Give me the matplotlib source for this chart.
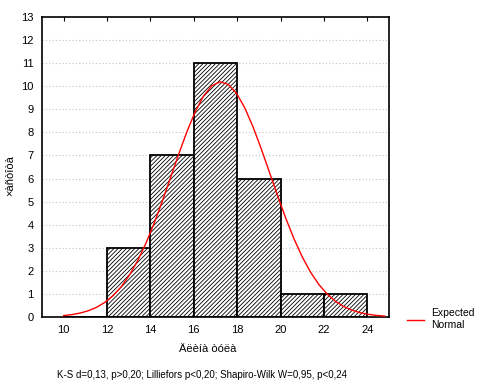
import numpy as np
import matplotlib.pyplot as plt

plt.rcParams['font.family'] = ['Liberation Sans', 'DejaVu Sans']
plt.rcParams['hatch.linewidth'] = 0.6

bin_edges = [10, 12, 14, 16, 18, 20, 22, 24]
counts = [0, 3, 7, 11, 6, 1, 1]
mu = 17.25
sigma = 2.27
n_total = sum(counts)
yticks = list(range(0, 14))
xticks = [10, 12, 14, 16, 18, 20, 22, 24]

fig = plt.figure(figsize=(4.79, 3.89), dpi=100)
ax = fig.add_axes([42 / 479, 1 - 317 / 389, 347 / 479, 300 / 389])

for y in yticks[1:-1]:
    ax.axhline(y, color='#c4c4c4', lw=0.8, ls=(0, (1, 2)), zorder=0)

lefts = np.array(bin_edges[:-1])
widths = np.diff(bin_edges)
ax.bar(lefts, counts, width=widths, align='edge', facecolor='white',
       edgecolor='black', hatch='////////', lw=1.3, zorder=2)
ax.plot([10, 12], [0, 0], color='black', lw=2, zorder=3)

xs = np.linspace(10, 24.8, 40)
ys = n_total * 2 / (sigma * np.sqrt(2 * np.pi)) * np.exp(-(xs - mu) ** 2 / (2 * sigma ** 2))
line, = ax.plot(xs, ys, color='red', lw=1, zorder=4, label='Expected\nNormal')

ax.set_xlim(9, 25)
ax.set_ylim(0, 13)
ax.set_yticks(yticks)
ax.set_xticks(xticks)
ax.tick_params(axis='both', labelsize=8, length=0, pad=6)
ax.tick_params(axis='x', top=True, direction='in', length=3)
ax.tick_params(axis='x', bottom=False)
for s in ax.spines.values():
    s.set_linewidth(1.2)

ax.set_ylabel('×àñòîòà', fontsize=8)
ax.yaxis.set_label_coords(-0.078, 0.47)
fig.text(208 / 479, 1 - 349 / 389, 'Äëèíà òóëà', fontsize=8, ha='center', va='center')
fig.text(202 / 479, 1 - 375 / 389,
         'K-S d=0,13, p>0,20; Lilliefors p<0,20; Shapiro-Wilk W=0,95, p<0,24',
         fontsize=7, ha='center', va='center')

fig.legend(handles=[line], loc='upper left', bbox_to_anchor=(398 / 479, 1 - 299 / 389),
           frameon=False, fontsize=7.5, handlelength=1.6, handletextpad=0.7)

fig.savefig('out.png', dpi=100)
